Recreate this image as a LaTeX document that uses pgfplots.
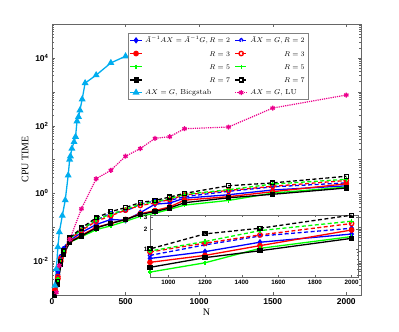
\documentclass[border=0pt]{standalone}
\usepackage{pgfplots}
\pgfplotsset{compat=1.18}
\usepackage{pgfplotstable}
\usepackage{fontspec}
\newfontfamily\ticksans{Liberation Sans}
\newfontfamily\labserif{Liberation Serif}

% R-series: solid = A^{-1}AX = A^{-1}G, dashed = AX = G
\pgfplotstableread{
N    bs     rs     gs     ks     bd     rd     gd     kd
20   0.0011 0.0013 0.0010 0.0010 0.0012 0.0014 0.0011 0.0011
40   0.004  0.003  0.0025 0.002  0.005  0.0035 0.003  0.0025
60   0.012  0.010  0.009  0.008  0.014  0.012  0.011  0.010
80   0.022  0.018  0.016  0.016  0.024  0.020  0.020  0.020
120  0.040  0.038  0.036  0.036  0.048  0.045  0.046  0.048
200  0.070  0.058  0.052  0.055  0.085  0.080  0.085  0.095
300  0.12   0.10   0.085  0.095  0.16   0.15   0.17   0.19
400  0.17   0.13   0.11   0.13   0.26   0.22   0.24   0.29
500  0.16   0.17   0.15   0.17   0.30   0.32   0.34   0.38
600  0.27   0.25   0.21   0.24   0.48   0.44   0.48   0.54
700  0.48   0.31   0.26   0.29   0.60   0.52   0.56   0.62
800  0.52   0.40   0.34   0.37   0.62   0.66   0.70   0.78
900  0.72   0.63   0.45   0.53   0.80   0.90   0.93   1.00
1200 0.91   0.80   0.62   0.74   1.15   1.22   1.29   1.68
1500 1.26   1.12   1.02   0.94   1.56   1.62   1.88   2.04
2000 1.67   1.92   1.53   1.44   2.04   2.40   2.60   3.20
}\rdata

\pgfplotstableread{
N   t
20  0.0019
30  0.0059
40  0.026
50  0.072
70  0.22
90  0.63
110 3.4
120 10
125 12.5
135 21
150 33
160 47
170 135
180 182
190 285
205 600
225 1800
300 3100
400 7100
500 11200
}\bicg

\pgfplotstableread{
N    t
30   0.0012
50   0.0074
120  0.043
200  0.35
300  2.7
400  4.8
500  12.5
600  21
700  42
800  47
900  81
1200 91
1500 330
2000 800
}\lu

\pgfplotsset{
  rplots/.style={line width=1.3bp, mark size=2.2bp},
  dplots/.style={line width=1.3bp, mark size=2.2bp, dash pattern=on 4bp off 2.5bp, mark options={solid}},
}

\newcommand{\rtwo}{$\tilde{A}^{-1}AX=\tilde{A}^{-1}G, R=2$}
\newcommand{\dtwo}{$\tilde{A}X=G, R=2$}

\begin{document}
\begin{tikzpicture}
\useasboundingbox (0,0) rectangle (399bp,332bp);
\begin{axis}[
  at={(52bp,37bp)}, anchor=south west,
  scale only axis, width=309bp, height=271bp,
  xmin=0, xmax=2100, ymode=log, ymin=1e-3, ymax=1e5,
  xtick={0,500,1000,1500,2000},
  ytick={1e-3,1e-2,1e-1,1,10,100,1e3,1e4,1e5},
  yticklabels={,10\textsuperscript{-2},,10\textsuperscript{0},,10\textsuperscript{2},,10\textsuperscript{4},},
  scaled ticks=false,
  /pgf/number format/1000 sep={},
  /pgf/number format/assume math mode=true,
  tick label style={font=\ticksans\bfseries\fontsize{8.5}{10}\selectfont},
  axis line style={draw=black!60},
  tick style={draw=black!60},
  major tick length=3bp, minor tick length=1.6bp,
  xlabel={N}, ylabel={CPU TIME},
  label style={font=\labserif\fontsize{10}{12}\selectfont},
  xlabel style={yshift=2bp},
  ylabel style={yshift=-2bp},
  legend columns=2,
  legend cell align=left,
  legend image code/.code={%
    \draw[mark repeat=2,mark phase=2,#1] plot coordinates {(0bp,0bp) (6bp,0bp) (12bp,0bp)};},
  legend style={at={(0.246,0.967)}, anchor=north west, draw=black!50,
    font=\fontsize{7.3}{8.5}\selectfont, inner sep=1.2bp, row sep=1.3bp,
    /tikz/every odd column/.append style={column sep=0.5bp},
    /tikz/every even column/.append style={column sep=2.5bp}},
]
\addplot[rplots, blue, mark=diamond*] table[x=N,y=bs]{\rdata};
\addlegendentry{\rtwo}
\addplot[dplots, blue, mark=diamond, mark options={fill=white}] table[x=N,y=bd]{\rdata};
\addlegendentry{\dtwo}
\addplot[rplots, red, mark=*] table[x=N,y=rs]{\rdata};
\addlegendentry{\phantom{\rtwo}\llap{$R=3$}}
\addplot[dplots, red, mark=o] table[x=N,y=rd]{\rdata};
\addlegendentry{\phantom{\dtwo}\llap{$R=3$}}
\addplot[rplots, green, mark=+] table[x=N,y=gs]{\rdata};
\addlegendentry{\phantom{\rtwo}\llap{$R=5$}}
\addplot[dplots, green, mark=+] table[x=N,y=gd]{\rdata};
\addlegendentry{\phantom{\dtwo}\llap{$R=5$}}
\addplot[rplots, black, mark=square*, mark size=1.9bp] table[x=N,y=ks]{\rdata};
\addlegendentry{\phantom{\rtwo}\llap{$R=7$}}
\addplot[dplots, black, mark=square, mark size=1.9bp] table[x=N,y=kd]{\rdata};
\addlegendentry{\phantom{\dtwo}\llap{$R=7$}}
\addplot[line width=1.3bp, cyan, mark=triangle*, mark size=2.8bp] table[x=N,y=t]{\bicg};
\addlegendentry{$AX=G$, Bicgstab}
\addplot[line width=1.2bp, magenta, densely dotted, mark=asterisk, mark size=2.5bp, mark options={solid, line width=1.3bp}] table[x=N,y=t]{\lu};
\addlegendentry{$AX=G$, LU}
\end{axis}

\begin{axis}[
  at={(150bp,55bp)}, anchor=south west,
  scale only axis, width=208bp, height=62bp,
  xmin=900, xmax=2035, ymode=log, ymin=0.38, ymax=3.22,
  xtick={1000,1200,1400,1600,1800,2000},
  ytick={1,2,3}, yticklabels={1,2,3},
  minor ytick={0.4,0.5,0.6,0.7,0.8,0.9},
  scaled ticks=false,
  /pgf/number format/1000 sep={},
  /pgf/number format/assume math mode=true,
  tick label style={font=\ticksans\bfseries\fontsize{6.3}{7}\selectfont},
  yticklabel style={xshift=1bp},
  axis line style={draw=black!60},
  tick style={draw=black!60},
  major tick length=2.5bp, minor tick length=1.4bp,
  axis background/.style={fill=white},
]
\addplot[rplots, blue, mark=diamond*] table[x=N,y=bs]{\rdata};
\addplot[dplots, blue, mark=diamond, mark options={fill=white}] table[x=N,y=bd]{\rdata};
\addplot[rplots, red, mark=*] table[x=N,y=rs]{\rdata};
\addplot[dplots, red, mark=o] table[x=N,y=rd]{\rdata};
\addplot[rplots, green, mark=+] table[x=N,y=gs]{\rdata};
\addplot[dplots, green, mark=+] table[x=N,y=gd]{\rdata};
\addplot[rplots, black, mark=square*, mark size=1.9bp] table[x=N,y=ks]{\rdata};
\addplot[dplots, black, mark=square, mark size=1.9bp] table[x=N,y=kd]{\rdata};
\end{axis}
\end{tikzpicture}
\end{document}
